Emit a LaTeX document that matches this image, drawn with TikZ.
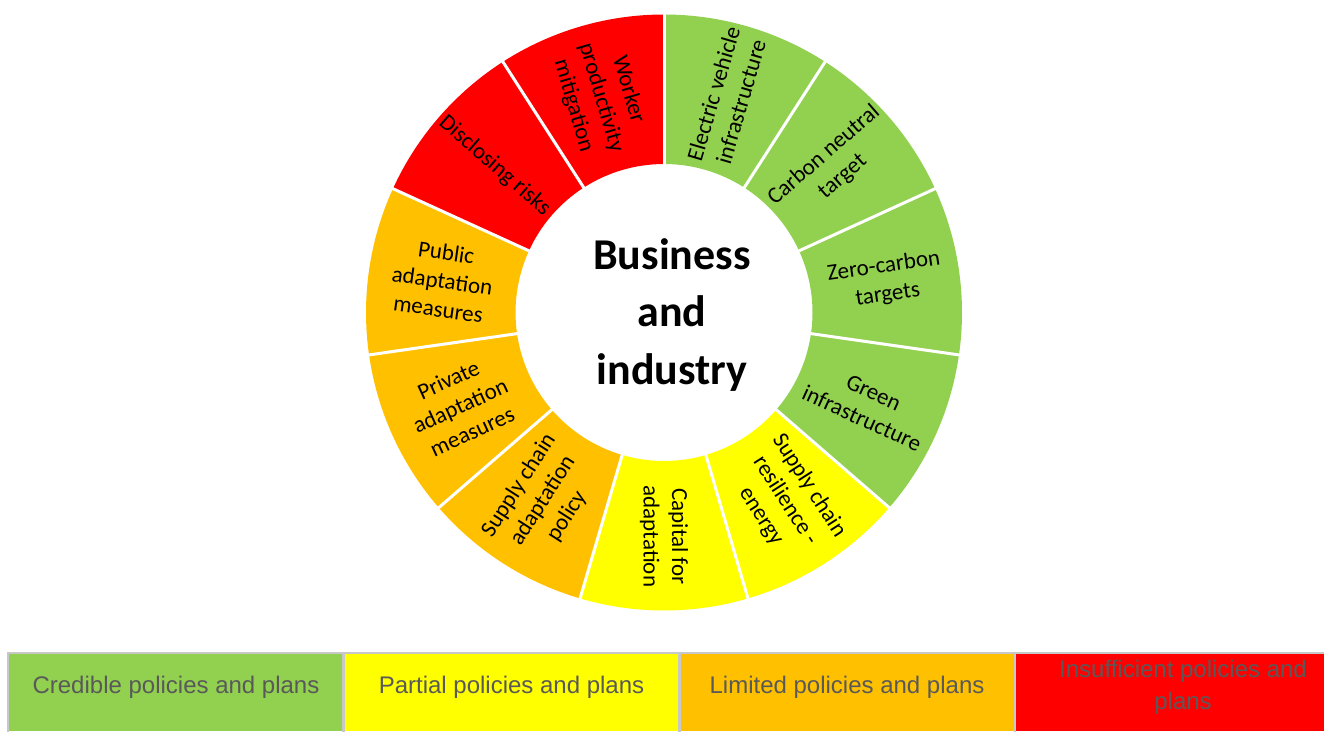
\documentclass[tikz,border=0pt]{standalone}
\usepackage{fontspec}
\setmainfont{Carlito}
\newfontfamily\legendfont{Liberation Sans}
\definecolor{cgreen}{HTML}{92D050}
\definecolor{cyellow}{HTML}{FFFF00}
\definecolor{corange}{HTML}{FFC000}
\definecolor{cred}{HTML}{FF0000}
\definecolor{lgray}{HTML}{C8C8C8}
\definecolor{ltext}{HTML}{595959}
\begin{document}
\begin{tikzpicture}[x=1pt,y=1pt,
  lbl/.style={font=\fontsize{23}{28.5}\selectfont, align=center, text=black, inner sep=0pt},
  lgd/.style={font=\legendfont\fontsize{24}{32}\selectfont, text=ltext, align=center, inner sep=0pt},
  sep/.style={white, line width=3pt},
  lgdline/.style={lgray, line width=2.5pt}]
\clip (0,0) rectangle (1324,-731);
\fill[white] (0,0) rectangle (1324,-731);
\coordinate (c) at (664,-312.5);
\def\Rout{298}
\def\Rin{148.5}
\def\segang{32.7272727}
% segments
\foreach \k/\col in {0/cgreen,1/cgreen,2/cgreen,3/cgreen,4/cyellow,5/cyellow,6/corange,7/corange,8/corange,9/cred,10/cred} {
  \pgfmathsetmacro\aa{90-\k*\segang}
  \pgfmathsetmacro\ab{90-(\k+1)*\segang}
  \fill[\col] ([shift={(\aa:\Rout)}]c) arc[start angle=\aa, end angle=\ab, radius=\Rout]
    -- ([shift={(\ab:\Rin)}]c) arc[start angle=\ab, end angle=\aa, radius=\Rin] -- cycle;
}
% separators
\foreach \k in {0,...,10} {
  \pgfmathsetmacro\aa{90-\k*\segang}
  \draw[sep] ([shift={(\aa:\Rin-2)}]c) -- ([shift={(\aa:\Rout+2)}]c);
}
% labels
\node[lbl, rotate=73.636] (ev) at ([shift={(73.636:224)}]c) {Electric vehicle\\infrastructure};
\node[lbl, rotate=40.909] (cn) at ([shift={(40.909:224)}]c) {Carbon neutral\\target};
\node[lbl, rotate=8.182] (zc) at ([shift={(8.182:224)}]c) {Zero-carbon\\targets};
\node[lbl, rotate=-24.545] (gi) at ([shift={(-24.545:224)}]c) {Green\\infrastructure};
\node[lbl, rotate=-57.273] (scr) at ([shift={(-57.273:224)}]c) {Supply chain\\resilience -\\energy};
\node[lbl, rotate=-90] (cap) at ([shift={(-90:224)}]c) {Capital for\\adaptation};
\node[lbl, rotate=57.273] (sca) at ([shift={(-122.727:224)}]c) {Supply chain\\adaptation\\policy};
\node[lbl, rotate=24.545] (pri) at ([shift={(-155.455:224)}]c) {Private\\adaptation\\measures};
\node[lbl, rotate=-8.182] (pub) at ([shift={(171.818:224)}]c) {Public\\adaptation\\measures};
\node[lbl, rotate=-40.909] (dis) at ([shift={(139.091:224)}]c) {Disclosing risks};
\node[lbl, rotate=-73.636] (wpm) at ([shift={(106.364:224)}]c) {Worker\\productivity\\mitigation};
% centre
\node[font=\bfseries\fontsize{44}{57.5}\selectfont, align=center, inner sep=0pt] (title) at (672,-315) {Business\\and\\industry};
% legend
\fill[cgreen] (8,-653) rectangle (343.5,-731);
\fill[cyellow] (343.5,-653) rectangle (679.5,-731);
\fill[corange] (679.5,-653) rectangle (1015,-731);
\fill[cred] (1015,-653) rectangle (1324,-731);
\draw[lgdline] (8,-733) -- (8,-653) -- (1326,-653);
\draw[lgdline] (343.5,-653) -- (343.5,-733);
\draw[lgdline] (679.5,-653) -- (679.5,-733);
\draw[lgdline] (1015,-653) -- (1015,-733);
\node[lgd, anchor=base] (lg1) at (176,-693) {Credible policies and plans};
\node[lgd, anchor=base] (lg2) at (511.5,-693) {Partial policies and plans};
\node[lgd, anchor=base] (lg3) at (847,-693) {Limited policies and plans};
\node[lgd] (lg4) at (1183,-687) {Insufficient policies and\\plans};
\end{tikzpicture}
\end{document}
